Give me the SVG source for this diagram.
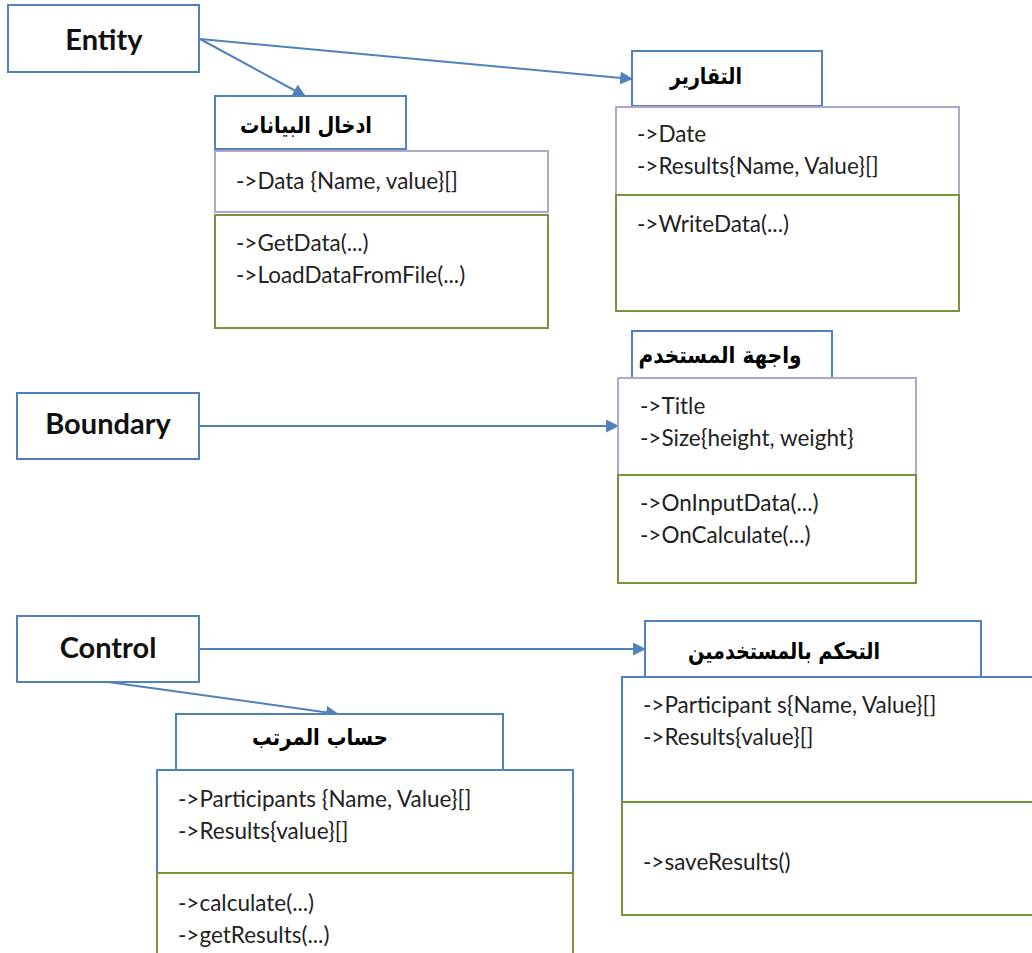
<svg xmlns="http://www.w3.org/2000/svg" width="1032" height="953" viewBox="0 0 1032 953">
  <style>
    .bg { fill: #ffffff; }
    .role { fill: #ffffff; stroke: #4f81bd; stroke-width: 2; }
    .title { fill: #ffffff; stroke: #4f81bd; stroke-width: 2; }
    .attr { fill: #ffffff; stroke: #b3a6cc; stroke-width: 2; }
    .attrb { fill: #ffffff; stroke: #4f81bd; stroke-width: 2; }
    .meth { fill: #ffffff; stroke: #77933c; stroke-width: 2; }
    .role-label { font-family: Lato, "Liberation Sans", sans-serif; font-weight: bold; font-size: 29px; fill: #111111; text-anchor: middle; }
    .ar { font-family: "DejaVu Sans", "Noto Sans", sans-serif; font-weight: bold; font-size: 23px; fill: #000000; text-anchor: middle; }
    .item { font-family: Lato, "Liberation Sans", sans-serif; font-size: 22.5px; fill: #222222; }
    .conn { stroke: #4f81bd; stroke-width: 2; fill: none; marker-end: url(#arrow); }
  </style>
  <defs>
    <marker id="arrow" viewBox="0 0 12 12" refX="11" refY="6" markerWidth="13" markerHeight="13" markerUnits="userSpaceOnUse" orient="auto">
      <path d="M0,0 L12,6 L0,12 Z" fill="#4f81bd"/>
    </marker>
  </defs>
  <rect class="bg" x="0" y="0" width="1032" height="953"/>

  <!-- connectors -->
  <g id="connectors">
    <line class="conn" x1="200" y1="39" x2="305" y2="96"/>
    <line class="conn" x1="200" y1="39" x2="632" y2="79"/>
    <line class="conn" x1="200" y1="426" x2="618" y2="426"/>
    <line class="conn" x1="200" y1="649" x2="645" y2="649"/>
    <line class="conn" x1="108" y1="682" x2="338" y2="714"/>
  </g>

  <!-- role boxes -->
  <g id="entity">
    <rect class="role" x="8" y="5" width="191" height="67"/>
    <text class="role-label" x="104" y="50">Entity</text>
  </g>
  <g id="boundary">
    <rect class="role" x="17" y="393" width="182" height="66"/>
    <text class="role-label" x="108" y="434">Boundary</text>
  </g>
  <g id="control">
    <rect class="role" x="17" y="616" width="182" height="66"/>
    <text class="role-label" x="108" y="658">Control</text>
  </g>

  <!-- data input class -->
  <g id="data-input">
    <rect class="title" x="215" y="96" width="191" height="53"/>
    <text class="ar" x="306" y="133" textLength="132" lengthAdjust="spacingAndGlyphs">ادخال البيانات</text>
    <rect class="attr" x="215" y="151" width="333" height="61"/>
    <text class="item" x="236" y="189">-&gt;Data {Name, value}[]</text>
    <rect class="meth" x="215" y="215" width="333" height="113"/>
    <text class="item" x="236" y="251">-&gt;GetData(...)</text>
    <text class="item" x="236" y="283">-&gt;LoadDataFromFile(...)</text>
  </g>

  <!-- reports class -->
  <g id="reports">
    <rect class="title" x="632" y="51" width="190" height="55"/>
    <text class="ar" x="706" y="84" textLength="72" lengthAdjust="spacingAndGlyphs">التقارير</text>
    <rect class="attr" x="616" y="107" width="343" height="88"/>
    <text class="item" x="637" y="142">-&gt;Date</text>
    <text class="item" x="637" y="174">-&gt;Results{Name, Value}[]</text>
    <rect class="meth" x="616" y="195" width="343" height="116"/>
    <text class="item" x="637" y="232">-&gt;WriteData(...)</text>
  </g>

  <!-- user interface class -->
  <g id="user-interface">
    <rect class="title" x="632" y="331" width="200" height="47"/>
    <text class="ar" x="720" y="363" textLength="163" lengthAdjust="spacingAndGlyphs">واجهة المستخدم</text>
    <rect class="attr" x="618" y="378" width="298" height="97"/>
    <text class="item" x="640" y="414">-&gt;Title</text>
    <text class="item" x="640" y="446">-&gt;Size{height, weight}</text>
    <rect class="meth" x="618" y="475" width="298" height="108"/>
    <text class="item" x="640" y="511">-&gt;OnInputData(...)</text>
    <text class="item" x="640" y="543">-&gt;OnCalculate(...)</text>
  </g>

  <!-- user control class -->
  <g id="user-control">
    <rect class="title" x="645" y="621" width="336" height="56"/>
    <text class="ar" x="784" y="659" textLength="192" lengthAdjust="spacingAndGlyphs">التحكم بالمستخدمين</text>
    <rect class="attrb" x="622" y="677" width="420" height="125"/>
    <text class="item" x="643" y="713">-&gt;Participant s{Name, Value}[]</text>
    <text class="item" x="643" y="745">-&gt;Results{value}[]</text>
    <rect class="meth" x="622" y="802" width="420" height="113"/>
    <text class="item" x="643" y="870">-&gt;saveResults()</text>
  </g>

  <!-- salary calculation class -->
  <g id="salary">
    <rect class="title" x="176" y="714" width="327" height="56"/>
    <text class="ar" x="320" y="745" textLength="136" lengthAdjust="spacingAndGlyphs">حساب المرتب</text>
    <rect class="attrb" x="157" y="770" width="416" height="103"/>
    <text class="item" x="178" y="807">-&gt;Participants {Name, Value}[]</text>
    <text class="item" x="178" y="839">-&gt;Results{value}[]</text>
    <rect class="meth" x="157" y="873" width="416" height="90"/>
    <text class="item" x="178" y="911">-&gt;calculate(...)</text>
    <text class="item" x="178" y="943">-&gt;getResults(...)</text>
  </g>
</svg>
